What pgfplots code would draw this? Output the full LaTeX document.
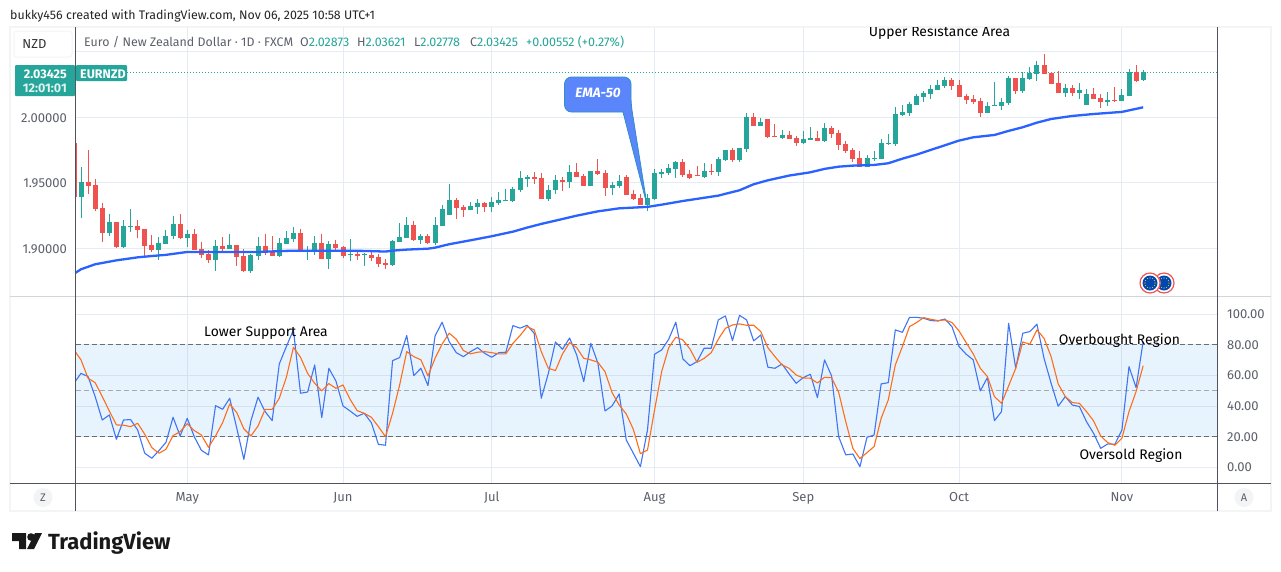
\documentclass[border=0pt]{standalone}
\usepackage{fontspec}
\usepackage{pgfplots}
\usepackage{pgfplotstable}
\pgfplotsset{compat=1.18}
\setmainfont{Fira Sans}

\definecolor{upc}{HTML}{26A69A}
\definecolor{downc}{HTML}{EF5350}
\definecolor{emac}{HTML}{2962FF}
\definecolor{kc}{HTML}{3F74F5}
\definecolor{dc}{HTML}{FF6D1A}
\definecolor{gridc}{HTML}{E6ECF3}
\definecolor{framec}{HTML}{F3F4F6}
\definecolor{axc}{HTML}{50535E}
\definecolor{txtc}{HTML}{5D606B}
\definecolor{calloutc}{HTML}{5B86FB}
\definecolor{calloutb}{HTML}{2E90C8}
\definecolor{bandc}{HTML}{2196F3}

% i open high low close
\pgfplotstableread{
i o h l c
0 1.9394 1.9623 1.9234 1.9504
4 1.9120 1.9262 1.9094 1.9201
6 1.9010 1.9216 1.9005 1.9171
7 1.9163 1.9300 1.9127 1.9171
11 1.8987 1.9089 1.8911 1.9041
12 1.9033 1.9140 1.9033 1.9094
13 1.9092 1.9247 1.9074 1.9186
15 1.9079 1.9140 1.9010 1.9109
19 1.8913 1.9064 1.8829 1.9018
21 1.8995 1.9109 1.8995 1.9025
24 1.8829 1.8957 1.8814 1.8949
25 1.8944 1.9087 1.8913 1.9018
28 1.8944 1.9079 1.8936 1.9041
29 1.9033 1.9132 1.9033 1.9079
30 1.9071 1.9163 1.9048 1.9117
32 1.8980 1.9018 1.8913 1.8987
33 1.8975 1.9094 1.8952 1.9041
35 1.8921 1.9056 1.8845 1.9033
38 1.8949 1.9071 1.8906 1.8957
40 1.8949 1.8967 1.8868 1.8957
44 1.8876 1.9064 1.8868 1.9056
45 1.9048 1.9193 1.9048 1.9087
46 1.9079 1.9239 1.9079 1.9178
48 1.9064 1.9109 1.9033 1.9094
50 1.9041 1.9237 1.9025 1.9178
51 1.9171 1.9331 1.9171 1.9300
52 1.9255 1.9491 1.9255 1.9369
55 1.9293 1.9354 1.9293 1.9323
56 1.9316 1.9377 1.9262 1.9346
58 1.9316 1.9392 1.9277 1.9354
59 1.9346 1.9430 1.9331 1.9369
60 1.9361 1.9453 1.9361 1.9369
61 1.9361 1.9468 1.9354 1.9453
62 1.9445 1.9590 1.9430 1.9537
63 1.9529 1.9560 1.9468 1.9545
66 1.9377 1.9484 1.9361 1.9445
67 1.9445 1.9560 1.9415 1.9522
69 1.9506 1.9636 1.9461 1.9583
72 1.9476 1.9590 1.9476 1.9590
75 1.9461 1.9506 1.9407 1.9484
76 1.9476 1.9560 1.9461 1.9514
80 1.9331 1.9415 1.9285 1.9384
81 1.9377 1.9606 1.9369 1.9575
82 1.9568 1.9606 1.9537 1.9583
83 1.9575 1.9644 1.9560 1.9613
84 1.9606 1.9667 1.9537 1.9659
88 1.9545 1.9652 1.9537 1.9590
90 1.9583 1.9697 1.9552 1.9682
91 1.9672 1.9751 1.9667 1.9751
93 1.9675 1.9766 1.9659 1.9766
94 1.9758 2.0033 1.9736 2.0003
96 1.9934 1.9995 1.9934 1.9965
99 1.9842 1.9903 1.9835 1.9865
102 1.9804 1.9896 1.9797 1.9835
103 1.9827 1.9926 1.9827 1.9842
105 1.9819 1.9957 1.9812 1.9919
111 1.9621 1.9712 1.9621 1.9690
112 1.9682 1.9743 1.9667 1.9690
113 1.9682 1.9835 1.9682 1.9804
114 1.9796 1.9873 1.9789 1.9804
115 1.9796 2.0079 1.9781 2.0025
116 2.0018 2.0094 2.0010 2.0041
117 2.0033 2.0117 2.0010 2.0102
118 2.0094 2.0178 2.0094 2.0163
119 2.0155 2.0201 2.0117 2.0186
120 2.0178 2.0247 2.0140 2.0216
121 2.0209 2.0285 2.0209 2.0247
122 2.0239 2.0308 2.0224 2.0285
128 2.0033 2.0117 2.0033 2.0087
129 2.0087 2.0270 2.0087 2.0094
130 2.0087 2.0148 2.0056 2.0117
131 2.0109 2.0316 2.0094 2.0300
133 2.0201 2.0346 2.0186 2.0300
134 2.0293 2.0384 2.0285 2.0338
135 2.0331 2.0430 2.0277 2.0400
139 2.0186 2.0254 2.0155 2.0224
141 2.0186 2.0262 2.0140 2.0209
142 2.0094 2.0216 2.0094 2.0178
145 2.0117 2.0193 2.0087 2.0132
147 2.0125 2.0216 2.0125 2.0171
148 2.0163 2.0369 2.0163 2.0346
150 2.02873 2.03621 2.02778 2.03425
}\upT

\pgfplotstableread{
i o h l c
-0.9 1.9802 1.9802 1.9394 1.9394
1 1.9504 1.9751 1.9415 1.9478
2 1.9483 1.9529 1.9287 1.9300
3 1.9308 1.9346 1.9051 1.9120
5 1.9201 1.9203 1.9005 1.9010
8 1.9171 1.9216 1.9081 1.9140
9 1.9148 1.9148 1.8931 1.9018
10 1.9025 1.9102 1.8975 1.8987
14 1.9186 1.9262 1.9069 1.9079
16 1.9109 1.9148 1.8987 1.8987
17 1.8995 1.9048 1.8929 1.8952
18 1.8957 1.8987 1.8891 1.8913
20 1.9018 1.9087 1.8967 1.8995
22 1.9025 1.9025 1.8868 1.8936
23 1.8944 1.8995 1.8822 1.8829
26 1.9018 1.9109 1.8952 1.8967
27 1.8980 1.9094 1.8944 1.8944
31 1.9117 1.9148 1.8975 1.8975
34 1.9041 1.9109 1.8921 1.8921
36 1.9033 1.9064 1.8987 1.9003
37 1.9010 1.9018 1.8929 1.8944
39 1.8957 1.8987 1.8913 1.8944
41 1.8949 1.8975 1.8906 1.8929
42 1.8936 1.8957 1.8855 1.8883
43 1.8891 1.8919 1.8840 1.8876
47 1.9178 1.9209 1.9056 1.9064
49 1.9094 1.9109 1.9033 1.9041
53 1.9369 1.9384 1.9224 1.9308
54 1.9316 1.9331 1.9239 1.9293
57 1.9346 1.9354 1.9277 1.9316
64 1.9545 1.9583 1.9491 1.9529
65 1.9537 1.9575 1.9377 1.9377
68 1.9522 1.9545 1.9438 1.9506
70 1.9583 1.9652 1.9545 1.9545
71 1.9552 1.9568 1.9476 1.9476
73 1.9590 1.9682 1.9560 1.9568
74 1.9575 1.9598 1.9400 1.9461
77 1.9545 1.9560 1.9407 1.9407
78 1.9415 1.9445 1.9369 1.9377
79 1.9384 1.9415 1.9331 1.9331
85 1.9659 1.9682 1.9545 1.9560
86 1.9568 1.9598 1.9529 1.9537
87 1.9560 1.9629 1.9552 1.9552
89 1.9590 1.9644 1.9560 1.9583
92 1.9751 1.9766 1.9659 1.9675
95 2.0003 2.0033 1.9934 1.9934
97 1.9988 1.9988 1.9842 1.9850
98 1.9858 1.9949 1.9850 1.9850
100 1.9865 1.9896 1.9835 1.9835
101 1.9842 1.9858 1.9781 1.9804
104 1.9842 1.9896 1.9819 1.9819
106 1.9919 1.9934 1.9842 1.9873
107 1.9880 1.9903 1.9751 1.9789
108 1.9796 1.9819 1.9728 1.9743
109 1.9751 1.9766 1.9659 1.9682
110 1.9690 1.9743 1.9621 1.9621
123 2.0285 2.0300 2.0209 2.0239
124 2.0247 2.0285 2.0155 2.0155
125 2.0163 2.0178 2.0102 2.0132
126 2.0140 2.0170 2.0102 2.0117
127 2.0125 2.0148 2.0003 2.0033
132 2.0300 2.0300 2.0178 2.0201
136 2.0400 2.0484 2.0331 2.0331
137 2.0338 2.0346 2.0254 2.0254
138 2.0262 2.0354 2.0186 2.0186
140 2.0224 2.0247 2.0163 2.0186
143 2.0178 2.0224 2.0140 2.0140
144 2.0148 2.0178 2.0071 2.0117
146 2.0132 2.0232 2.0117 2.0125
149 2.0346 2.0400 2.0270 2.0277
}\downT

% i k d
\pgfplotstableread{
i k d
-1 54.9 76.7
0 61.4 70.2
1 59.3 58.2
2 46.2 55.3
3 30.9 46.2
4 34.2 36.8
5 18.3 27.7
6 30.9 27.5
7 31.2 26.6
8 24.4 28.8
9 9.2 21.6
10 5.9 12.9
11 10.9 9.2
12 16.3 11.8
13 32.7 20.7
14 20.5 23.3
15 32.0 28.5
16 20.0 24.0
17 11.1 21.1
18 8.1 13.1
19 40.3 20.5
20 37.9 29.2
21 45.1 41.4
22 25.5 35.7
23 5.2 25.1
24 30.5 20.5
25 45.8 27.0
26 36.4 37.9
27 30.5 37.9
28 67.5 45.1
29 78.9 58.8
30 89.8 78.4
31 48.4 71.9
32 49.2 61.4
33 66.9 54.9
34 32.5 49.9
35 64.7 54.7
36 56.4 51.6
37 40.1 53.8
38 36.8 44.4
39 33.3 37.0
40 35.3 35.3
41 29.2 32.7
42 15.0 26.6
43 14.4 20.0
44 69.7 35.3
45 71.7 53.8
46 86.1 75.6
47 59.9 72.3
48 64.7 70.2
49 53.4 59.7
50 85.8 71.2
51 94.8 80.6
52 82.1 87.6
53 74.9 83.7
54 72.3 76.3
55 75.6 74.1
56 78.2 75.2
57 74.5 75.6
58 71.9 74.9
59 74.9 74.1
60 75.2 74.1
61 92.6 81.0
62 90.9 86.1
63 92.8 91.9
64 87.6 89.8
65 45.1 75.6
66 61.4 64.7
67 81.9 63.2
68 77.1 74.1
69 84.5 81.5
70 73.4 78.2
71 56.0 71.2
72 81.0 70.2
73 68.0 68.6
74 36.8 62.5
75 40.1 48.8
76 47.9 40.7
77 17.9 34.9
78 9.2 24.8
79 0.4 8.9
80 24.4 11.3
81 73.9 37.5
82 76.7 62.5
83 83.7 78.2
84 94.8 85.0
85 70.8 83.2
86 66.4 77.3
87 69.1 68.6
88 77.8 71.2
89 77.8 74.9
90 96.3 83.7
91 98.9 90.8
92 82.8 93.0
93 99.3 93.7
94 96.3 92.8
95 82.6 92.8
96 86.5 88.7
97 65.4 78.2
98 64.7 72.3
99 67.5 66.9
100 61.0 64.7
101 54.9 60.3
102 58.6 58.4
103 60.8 58.2
104 45.5 55.1
105 70.2 58.8
106 59.7 58.6
107 20.0 49.0
108 8.1 29.8
109 8.7 12.4
110 0.4 5.7
111 19.6 9.6
112 21.1 13.5
113 54.5 32.0
114 55.3 44.0
115 89.8 66.9
116 88.2 78.9
117 98.0 91.9
118 98.0 94.6
119 97.4 97.8
120 95.9 96.7
121 95.6 95.9
122 96.9 96.3
123 91.9 94.6
124 78.9 89.1
125 73.9 81.5
126 70.2 74.1
127 49.9 64.7
128 58.6 59.3
129 30.5 46.2
130 36.4 41.8
131 94.1 53.2
132 64.7 64.7
133 87.6 81.9
134 88.7 80.4
135 93.5 89.8
136 71.2 84.3
137 54.9 72.3
138 39.9 54.5
139 46.2 46.2
140 40.7 42.3
141 39.7 41.8
142 29.8 36.4
143 22.2 30.3
144 12.4 20.5
145 15.3 16.1
146 15.0 14.4
147 24.4 19.0
148 65.8 36.4
149 52.1 49.5
150 82.1 66.4
}\stochT

\pgfplotsset{
  tvaxis/.style={
    scale only axis, width=1142pt,
    xmin=-0.777, xmax=160.5,
    xtick={15,37,58,81,102,124,147},
    axis line style={draw=none},
    major tick length=0pt,
    tick style={draw=none},
    xmajorgrids, ymajorgrids,
    grid style={color=gridc, line width=1pt},
    clip=true,
  },
  candle/.style 2 args={draw=none, no markers, forget plot,
    error bars/.cd, y dir=plus, y explicit, error mark=none,
    error bar style={draw=#1, line width=#2}},
}

\begin{document}
\begin{tikzpicture}
\begin{scope}[x=1pt,y=-1pt]
  \path[use as bounding box, fill=white] (0,0) rectangle (1281,571);
  \draw[framec, line width=2pt] (10,26.5) rectangle (1271,511);
\end{scope}

% price pane
\begin{axis}[tvaxis,
    at={(75.5pt,-296.5pt)}, anchor=south west,
    height=269.5pt,
    ymin=1.8632, ymax=2.0689,
    ytick={1.90,1.95,2.00,2.05},
    yticklabels={1.90000,1.95000,2.00000,},
    xticklabels={},
    yticklabel style={anchor=east, inner sep=0pt, xshift=-8.5pt, yshift=-0.5pt, text=txtc,
      font=\fontsize{13}{15}\selectfont},
  ]
  \addplot[upc, dash pattern=on 1pt off 2pt, line width=0.9pt, forget plot] coordinates {(6.5,2.03425)(160.5,2.03425)};
  % wicks
  \addplot[candle={upc}{1pt}] table[x=i, y=l, y error plus expr=\thisrow{h}-\thisrow{l}] {\upT};
  \addplot[candle={downc}{1pt}] table[x=i, y=l, y error plus expr=\thisrow{h}-\thisrow{l}] {\downT};
  % bodies
  \addplot[candle={upc}{5pt}] table[x=i, y=o, y error plus expr=\thisrow{c}-\thisrow{o}] {\upT};
  \addplot[candle={downc}{5pt}] table[x=i, y=c, y error plus expr=\thisrow{o}-\thisrow{c}] {\downT};
  % EMA-50
  \addplot[emac, line width=2.3pt, line join=round] coordinates {
    (-1,1.8805)(0,1.8840)(2,1.8878)(5,1.8908)(8,1.8931)(10,1.8941)(12,1.8950)(15,1.8972)
    (20,1.8972)(25,1.8972)(30,1.8982)(35,1.8982)(40,1.8980)(43,1.8975)(44,1.8982)(46,1.8990)
    (49,1.8997)(50,1.9005)(52,1.9031)(55,1.9061)(58,1.9092)(61,1.9127)(63,1.9158)(65,1.9186)
    (67,1.9211)(70,1.9249)(73,1.9282)(76,1.9305)(80,1.9316)(82,1.9333)(85,1.9361)(90,1.9402)
    (93,1.9443)(95,1.9489)(97,1.9519)(100,1.9555)(103,1.9580)(105,1.9606)(107,1.9623)
    (109,1.9631)(112,1.9636)(114,1.9649)(116,1.9684)(118,1.9715)(120,1.9751)(122,1.9786)
    (124,1.9822)(126,1.9847)(129,1.9865)(131,1.9896)(133,1.9924)(135,1.9959)(137,1.9987)
    (140,2.0010)(143,2.0025)(147,2.0041)(150,2.0076)};
\end{axis}

% stochastic pane
\begin{axis}[tvaxis,
    at={(75.5pt,-483pt)}, anchor=south west,
    height=186.5pt,
    ymin=-10.26, ymax=111.6,
    ytick={0,20,40,60,80,100},
    xticklabels={May,Jun,Jul,Aug,Sep,Oct,Nov},
    yticklabel pos=right,
    yticklabel style={anchor=west, inner sep=0pt, xshift=9.5pt, text=txtc,
      /pgf/number format/.cd, fixed, fixed zerofill, precision=2, assume math mode=true},
    xticklabel style={anchor=base, inner sep=0pt, yshift=-18pt, text=txtc,
      font=\fontsize{13}{15}\selectfont},
    tick label style={font=\fontsize{13}{15}\selectfont},
  ]
  \addplot[draw=none, fill=bandc, fill opacity=0.1, forget plot] coordinates
    {(-0.777,20)(160.5,20)(160.5,80)(-0.777,80)} \closedcycle;
  \addplot[axc!85, dash pattern=on 5pt off 3pt, line width=0.9pt, forget plot] coordinates {(-0.777,80)(160.5,80)};
  \addplot[axc!50, dash pattern=on 5pt off 3pt, line width=0.9pt, forget plot] coordinates {(-0.777,50)(160.5,50)};
  \addplot[axc!85, dash pattern=on 5pt off 3pt, line width=0.9pt, forget plot] coordinates {(-0.777,20)(160.5,20)};
  \addplot[kc, line width=1.1pt, line join=round] table[x=i, y=k] {\stochT};
  \addplot[dc, line width=1.1pt, line join=round] table[x=i, y=d] {\stochT};
\end{axis}

% chrome and notes, in reference pixels
\begin{scope}[x=1pt,y=-1pt]
  \draw[gridc!80!gray, line width=1pt] (10,296.5) -- (1271,296.5);
  \draw[axc, line width=1pt] (10,483.5) -- (1271,483.5);
  \draw[axc, line width=1pt] (75.5,27) -- (75.5,511);
  \draw[axc, line width=1pt] (1217.5,27) -- (1217.5,511);

  \node[anchor=base west, inner sep=0pt, text=black!85, font=\fontsize{12.4}{15}\selectfont]
    at (10,19) {bukky456 created with TradingView.com, Nov 06, 2025 10:58 UTC+1};

  \draw[framec, fill=white, rounded corners=3pt, line width=1pt] (14,31) rectangle (72,57);
  \node[text=black!80, font=\fontsize{13}{15}\selectfont] at (34.5,44.5) {NZD};

  \node[anchor=base west, inner sep=0pt, text=txtc, font=\fontsize{12.4}{15}\selectfont] at (84,46)
    {Euro / New Zealand Dollar · 1D · FXCM};
  \node[anchor=base west, inner sep=0pt, font=\fontsize{12.5}{15}\selectfont] at (300,46)
    {\textcolor{txtc}{O}\textcolor{upc}{2.02873}};
  \node[anchor=base west, inner sep=0pt, font=\fontsize{12.5}{15}\selectfont] at (357,46)
    {\textcolor{txtc}{H}\textcolor{upc}{2.03621}};
  \node[anchor=base west, inner sep=0pt, font=\fontsize{12.5}{15}\selectfont] at (414,46)
    {\textcolor{txtc}{L}\textcolor{upc}{2.02778}};
  \node[anchor=base west, inner sep=0pt, font=\fontsize{12.5}{15}\selectfont] at (470,46)
    {\textcolor{txtc}{C}\textcolor{upc}{2.03425}};
  \node[anchor=base west, inner sep=0pt, text=upc, font=\fontsize{12.5}{15}\selectfont] at (526,46)
    {+0.00552 (+0.27\%)};

  \fill[upc, rounded corners=1pt] (15,65) rectangle (75,96);
  \fill[upc, rounded corners=1pt] (76,65) rectangle (127,81);
  \node[anchor=base east, inner sep=0pt, text=white, font=\bfseries\fontsize{12.5}{15}\selectfont] at (67,78) {2.03425};
  \node[anchor=base east, inner sep=0pt, text=white!85!upc, font=\bfseries\fontsize{12.5}{15}\selectfont] at (67,92) {12:01:01};
  \node[anchor=base west, inner sep=0pt, text=white, font=\bfseries\fontsize{12.5}{15}\selectfont] at (80,78) {EURNZD};

  % callout
  \path[fill=calloutc, draw=calloutb, line width=0.8pt]
    [rounded corners=7pt] (564.5,77) -- (631,77) -- (631,104)
    [sharp corners] -- (647,205) -- (623,112)
    [rounded corners=7pt] -- (564.5,112) -- cycle;
  \node[text=white, font=\bfseries\itshape\fontsize{13.5}{15}\selectfont] at (598,93) {EMA-50};

  % notes
  \begin{scope}
    \clip (500,27.5) rectangle (1217,60);
    \node[anchor=base, inner sep=0pt, font=\fontsize{13.9}{15}\selectfont] at (939.5,36) {Upper Resistance Area};
  \end{scope}
  \node[anchor=base, inner sep=0pt, font=\fontsize{13.9}{15}\selectfont] at (266,336) {Lower Support Area};
  \node[anchor=base, inner sep=0pt, font=\fontsize{13.9}{15}\selectfont] at (1119.5,344) {Overbought Region};
  \node[anchor=base, inner sep=0pt, font=\fontsize{13.9}{15}\selectfont] at (1131,459) {Oversold Region};

  % event markers
  \foreach \cx in {1164,1150}{
    \fill[white] (\cx,283) circle (10.5);
    \draw[downc, line width=1.2pt] (\cx,283) circle (10);
    \fill[blue!60!cyan!70!black] (\cx,283) circle (7.5);
    \foreach \a in {0,30,...,330}
      \fill[yellow!80!orange, shift={(\cx,283)}] (\a:5) circle (0.55);
  }

  % scale buttons
  \fill[framec] (43,497.5) circle (9.5);
  \node[text=txtc, font=\fontsize{11}{13}\selectfont] at (43,498) {Z};
  \fill[framec] (1244,497.5) circle (9.5);
  \node[text=txtc, font=\fontsize{11}{13}\selectfont] at (1244,498) {A};

  % logo
  \fill[black!90] (12,533) -- (26,533) -- (26,549) -- (19,549) -- (19,541) -- (12,541) -- cycle;
  \fill[black!90] (31,537) circle (3.8);
  \fill[black!90] (35,533) -- (42,533) -- (34,549) -- (27,549) -- cycle;
  \node[anchor=base west, inner sep=0pt, text=black!90, font=\fontsize{21.9}{25}\selectfont\bfseries] at (48,549) {TradingView};
\end{scope}
\end{tikzpicture}
\end{document}
